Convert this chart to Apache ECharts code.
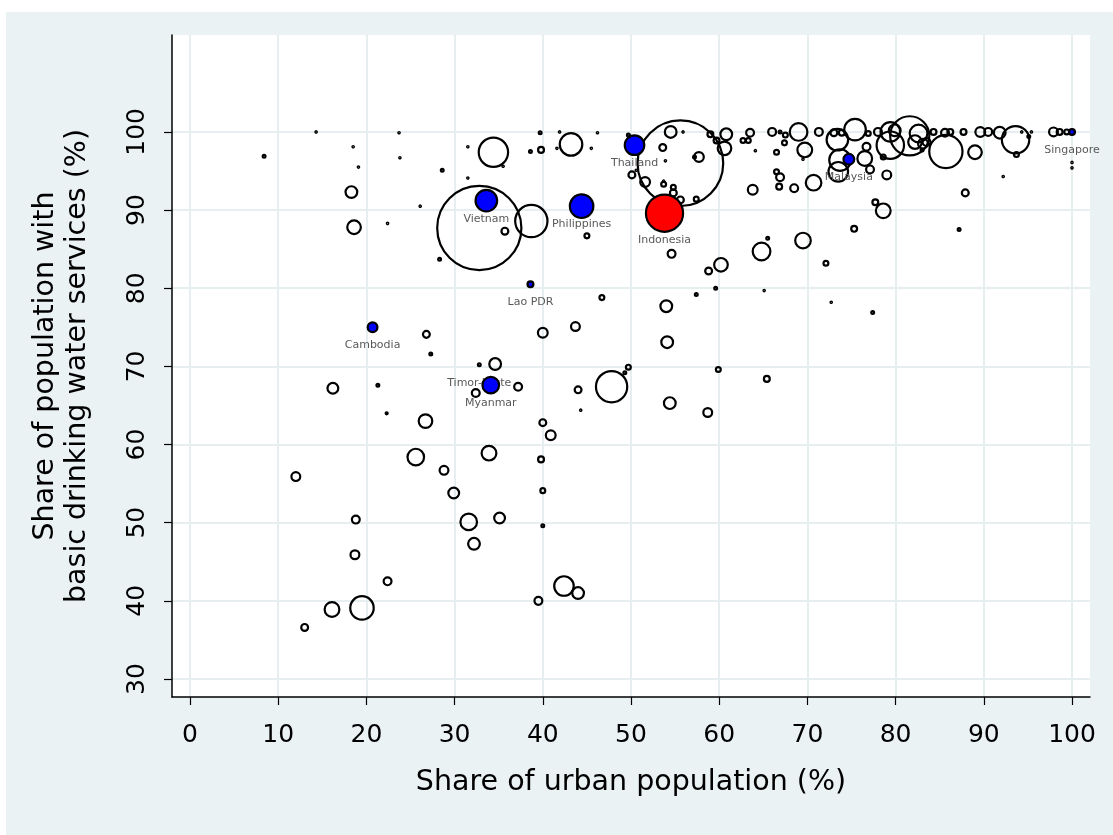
<!DOCTYPE html>
<html>
<head>
<meta charset="utf-8">
<script src="https://cdn.jsdelivr.net/npm/echarts@6/dist/echarts.min.js"></script>
<style>
html,body{margin:0;padding:0;background:#fff;}
#c{width:1113px;height:835px;}
</style>
</head>
<body>
<div id="c"></div>
<script>
// Other countries: urban share (%), basic drinking water (%), population (millions)
const urban = [8.4,14.3,18.5,19.1,18.3,18.6,23.7,23.8,22.4,28.6,26.1,31.5,31.5,28.3,34.4,32.8,35.5,39.7,41.9,46.2,
38.6,39.8,41.6,43.2,45.5,49.7,50.1,51.6,55.6,54.5,55.9,53.6,53.9,57.7,57.2,53.7,53.7,54.8,54.8,55.6,
57.4,59.0,59.7,60.8,60.6,63.5,62.7,63.3,64.1,66.0,66.9,67.4,66.5,67.5,69.0,66.5,66.9,66.8,68.5,63.8,
69.5,38.7,35.7,45.0,46.7,54.0,54.6,64.8,65.5,60.2,58.8,59.6,57.4,65.1,69.7,69.5,71.3,73.0,73.9,75.4,
73.4,73.7,73.5,76.5,76.7,77.1,76.9,78.0,79.0,78.6,79.4,79.4,81.6,82.6,79.9,83.5,83.0,84.3,85.7,85.6,
86.2,87.7,89.0,89.6,90.5,91.8,93.6,93.7,94.3,95.4,95.1,97.9,98.6,99.4,100,100,92.2,87.9,87.2,78.6,
77.7,75.3,72.1,72.7,70.7,82.2,83.1,77.4,50.6,26.8,27.3,34.6,16.2,21.3,22.3,26.7,32.4,25.6,28.8,12.0,
29.9,33.9,18.8,31.6,18.7,22.4,16.1,19.5,13.0,35.1,32.2,40.0,42.4,44.0,39.5,43.7,40.0,54.1,37.2,44.0,
44.3,47.8,49.7,49.3,59.9,65.4,54.4,58.7,40.0,40.9,39.8,40.0];
const water = [96.9,100,98.1,95.5,92.3,87.8,99.9,96.7,88.3,95.1,90.5,98.1,94.1,83.7,97.4,87.7,95.6,99.9,100,99.9,
97.5,97.7,97.9,98.4,97.9,99.6,94.5,93.6,96.0,100,100,98.0,96.3,96.8,96.8,93.7,93.3,92.9,92.2,91.3,
91.4,99.7,98.9,99.7,97.9,99.9,98.9,98.9,97.6,100,100,98.6,97.4,99.6,100,94.9,94.2,93.0,92.8,92.6,
86.1,88.6,87.3,86.7,78.8,77.7,84.4,84.7,86.4,83.0,82.2,80.0,79.2,79.7,97.7,96.5,100,99.9,99.9,100.3,
99.0,96.4,94.9,96.6,98.1,95.2,99.8,100,94.5,96.8,100,98.3,99.5,99.8,100.2,98.7,97.7,100,97.5,99.9,
100,100,97.4,100,100,99.9,99.0,97.1,100,100,99.4,100,100,100,96.1,95.4,94.3,92.2,87.5,89.9,
91.0,87.6,83.2,78.2,93.5,98.7,98.5,76.9,95.1,74.1,71.6,70.3,67.2,67.6,64.0,63.0,66.6,58.4,56.7,55.9,
53.8,58.9,50.4,50.1,45.9,42.5,38.9,39.1,36.6,50.6,47.3,49.6,41.9,41.0,40.0,75.1,74.3,73.1,67.4,67.0,
64.4,67.4,69.9,69.2,69.6,68.4,65.3,64.1,62.8,61.2,58.1,54.1];
const pop = [1.5,0.3,0.3,0.3,26,35,0.3,0.3,0.3,1.5,0.3,0.3,0.3,1.5,163,1340,0.3,1.5,0.3,0.3,
1.5,6.5,0.3,96,0.3,1.5,8.9,18,1386,26,0.3,8.9,0.3,18,1.5,0.3,4.5,4.5,8.9,8.9,
4.5,6.5,6.5,26,35,11.6,4.5,4.5,0.3,11.6,1.5,4.5,4.5,4.5,59,4.5,11.6,6.5,11.6,18,
46,197,8.9,4.5,4.5,26,11.6,59,1.5,35,8.9,1.5,1.5,0.3,41,0.3,11.6,8.9,6.5,88,
88,88,72,41,11.6,11.6,4.5,11.6,14.7,4.5,72,142,290,59,26,11.6,1.5,6.5,209,11.6,
6.5,6.5,35,18,11.6,26,142,4.5,0.3,0.3,1.5,14.7,6.5,4.5,0.3,0.3,0.3,8.9,1.5,41,
6.5,6.5,4.5,0.3,46,35,18,1.5,0.3,8.9,1.5,26,22,1.5,0.8,35,11.6,52,14.7,14.7,
22,41,11.6,52,14.7,11.6,41,104,8.9,22,26,1.5,72,26,11.6,14.7,18,26,11.6,8.9,
0.3,185,4.5,1.5,4.5,6.5,26,14.7,8.9,18,6.5,4.5];

// Labelled non-highlighted country
const otherNames = ['Timor-Leste'];
const otherUrban = [32.8];
const otherWater = [70.2];
const otherPop = [1.5];

// Highlighted ASEAN countries (blue)
const aseanNames = ['Vietnam','Thailand','Philippines','Malaysia','Lao PDR','Cambodia','Myanmar','Singapore'];
const aseanUrban = [33.6,50.4,44.4,74.7,38.6,20.7,34.1,100];
const aseanWater = [91.2,98.3,90.5,96.5,80.5,75.0,67.6,100];
const aseanPop   = [88,72,104,22,6.5,18,52,6.5];

// Indonesia (red)
const idnNames = ['Indonesia'];
const idnUrban = [53.8];
const idnWater = [89.6];
const idnPop = [261];

const xTicks = [0,10,20,30,40,50,60,70,80,90,100];
const yTicks = [30,40,50,60,70,80,90,100];

function rows(xs, ys, ps, names) {
  return xs.map((x, i) => names ? {name: names[i], value: [x, ys[i], ps[i]]} : [x, ys[i], ps[i]]);
}
const sizeFn = v => Math.max(2.3 * Math.sqrt(v[2]), 1.4);
const FONT = 'DejaVu Sans';

const chart = echarts.init(document.getElementById('c'), null, {renderer: 'canvas'});
const labelStyle = {
  show: true, position: 'inside', offset: [0, 18],
  formatter: p => p.name, color: '#595959', fontSize: 11, fontFamily: FONT
};
chart.setOption({
  animation: false,
  backgroundColor: '#ffffff',
  graphic: [{
    type: 'rect', z: -10, silent: true,
    shape: {x: 6, y: 12, width: 1107, height: 823},
    style: {fill: '#EAF2F3'}
  }],
  grid: {left: 172, right: 23, top: 35, bottom: 138, show: true, backgroundColor: '#ffffff', borderWidth: 0},
  xAxis: {
    type: 'value', min: -2.04, max: 102.04,
    name: 'Share of urban population (%)', nameLocation: 'middle', nameGap: 71,
    nameTextStyle: {fontFamily: FONT, fontSize: 28.5, color: '#000'},
    axisLine: {show: true, onZero: false, lineStyle: {color: '#000', width: 1.5}},
    axisTick: {show: true, length: 8, customValues: xTicks, lineStyle: {color: '#000', width: 1.2}},
    axisLabel: {customValues: xTicks, margin: 26, fontFamily: FONT, fontSize: 25, color: '#000'},
    splitLine: {show: true, lineStyle: {color: '#E6EEF0', width: 2}}
  },
  yAxis: {
    type: 'value', min: 27.7, max: 112.4,
    name: 'Share of population with\nbasic drinking water services (%)', nameLocation: 'middle', nameGap: 78,
    nameTextStyle: {fontFamily: FONT, fontSize: 28.5, color: '#000', lineHeight: 32},
    axisLine: {show: true, onZero: false, lineStyle: {color: '#000', width: 1.5}},
    axisTick: {show: true, length: 8, customValues: yTicks, lineStyle: {color: '#000', width: 1.2}},
    axisLabel: {customValues: yTicks, rotate: 90, margin: 22, fontFamily: FONT, fontSize: 25, color: '#000'},
    splitLine: {show: true, lineStyle: {color: '#E6EEF0', width: 2}}
  },
  series: [
    {
      type: 'scatter', data: rows(urban, water, pop), symbolSize: sizeFn,
      itemStyle: {color: 'rgba(0,0,0,0)', borderColor: '#000', borderWidth: 2.2, opacity: 1},
      emphasis: {disabled: true}, z: 2
    },
    {
      type: 'scatter', data: rows(otherUrban, otherWater, otherPop, otherNames), symbolSize: sizeFn,
      itemStyle: {color: 'rgba(0,0,0,0)', borderColor: '#000', borderWidth: 2.2, opacity: 1},
      label: labelStyle, emphasis: {disabled: true}, z: 3
    },
    {
      type: 'scatter', data: rows(aseanUrban, aseanWater, aseanPop, aseanNames), symbolSize: sizeFn,
      itemStyle: {color: '#0000FF', borderColor: '#000', borderWidth: 2.2, opacity: 1},
      label: labelStyle, emphasis: {disabled: true}, z: 4
    },
    {
      type: 'scatter', data: rows(idnUrban, idnWater, idnPop, idnNames), symbolSize: sizeFn,
      itemStyle: {color: '#FF0000', borderColor: '#000', borderWidth: 2.2, opacity: 1},
      label: Object.assign({}, labelStyle, {offset: [0, 27]}), emphasis: {disabled: true}, z: 5
    }
  ]
});
</script>
</body>
</html>
